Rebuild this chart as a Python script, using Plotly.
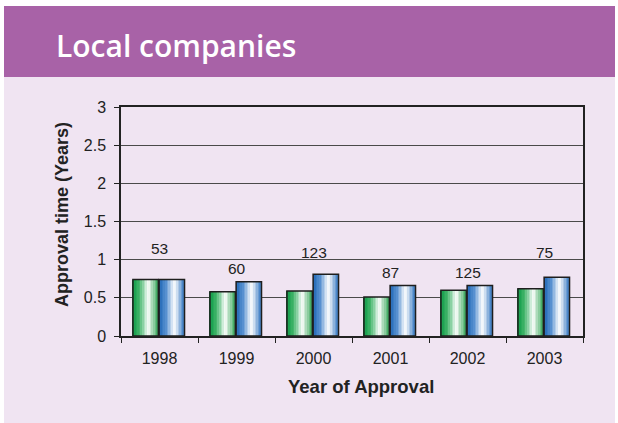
import plotly.graph_objects as go

# ---- data ----
years = ["1998", "1999", "2000", "2001", "2002", "2003"]
series_a = [0.74, 0.58, 0.59, 0.51, 0.60, 0.62]   # green bars
series_b = [0.74, 0.71, 0.81, 0.66, 0.66, 0.77]   # blue bars
count_labels = ["53", "60", "123", "87", "125", "75"]
label_heights = [1.15, 0.88, 1.10, 0.83, 0.83, 1.10]
y_ticks = [0, 0.5, 1, 1.5, 2, 2.5, 3]

# ---- geometry (pixels) ----
W, H = 618, 423
L, R, T, B = 121, 35, 107, 87
PW, PH = W - L - R, H - T - B


def px(x):
    return (x - L) / PW


def py(y):
    return (H - B - y) / PH


def hex2rgb(h):
    h = h.lstrip('#')
    return tuple(int(h[i:i + 2], 16) for i in (0, 2, 4))


def grad(stops, t):
    for (t0, c0), (t1, c1) in zip(stops[:-1], stops[1:]):
        if t0 <= t <= t1:
            f = (t - t0) / (t1 - t0) if t1 > t0 else 0
            a, b = hex2rgb(c0), hex2rgb(c1)
            return 'rgb(%d,%d,%d)' % tuple(round(a[k] + (b[k] - a[k]) * f) for k in range(3))
    return stops[-1][1]


green_stops = [(0, '#0A9A45'), (0.28, '#45B66C'), (0.62, '#FFFFFF'), (1.0, '#38A85B')]
blue_stops = [(0, '#1A62B2'), (0.28, '#5690D0'), (0.62, '#FFFFFF'), (1.0, '#3B7CC4')]

bar_w = 0.33
N = 16
fig = go.Figure()

for vals, stops, off in [(series_a, green_stops, -0.345), (series_b, blue_stops, -0.005)]:
    sw = bar_w / N
    for i in range(N):
        t = (i + 0.5) / N
        fig.add_trace(go.Bar(
            x=years, y=vals, width=sw * 1.02, offset=off + i * sw,
            marker=dict(color=grad(stops, t), line=dict(width=0)),
            hoverinfo='skip', showlegend=False))
    fig.add_trace(go.Bar(
        x=years, y=vals, width=bar_w, offset=off,
        marker=dict(color='rgba(0,0,0,0)', line=dict(color='#1e1e1e', width=1.5)),
        showlegend=False))

annotations = []
for idx, (txt, h) in enumerate(zip(count_labels, label_heights)):
    annotations.append(dict(x=idx, y=h, xref='x', yref='y', text=txt, showarrow=False,
                            xanchor='center', yanchor='middle',
                            font=dict(family='Liberation Sans', size=15.5, color='#222222')))

annotations.append(dict(x=px(54), y=py(46), xref='paper', yref='paper', xanchor='left',
                        yanchor='middle', text='Local companies', showarrow=False,
                        font=dict(family='Open Sans', size=30, color='white', weight=600)))
annotations.append(dict(x=px(62), y=py(215), xref='paper', yref='paper', textangle=-90,
                        xanchor='center', yanchor='middle',
                        text='Approval time (Years)', showarrow=False,
                        font=dict(family='Liberation Sans', size=18, color='#222222', weight='bold')))
annotations.append(dict(x=px(361), y=py(386), xref='paper', yref='paper',
                        xanchor='center', yanchor='middle',
                        text='Year of Approval', showarrow=False,
                        font=dict(family='Liberation Sans', size=18.5, color='#222222', weight='bold')))

shapes = [
    dict(type='rect', xref='paper', yref='paper', x0=px(4), x1=px(615), y0=py(424), y1=py(77),
         fillcolor='#F0E4F2', line=dict(width=0), layer='below'),
    dict(type='rect', xref='paper', yref='paper', x0=px(4), x1=px(615), y0=py(77), y1=py(6),
         fillcolor='#A862A7', line=dict(width=0), layer='below'),
]

fig.update_layout(
    width=W, height=H, margin=dict(l=L, r=R, t=T, b=B),
    paper_bgcolor='white', plot_bgcolor='rgba(0,0,0,0)',
    barmode='overlay', showlegend=False,
    annotations=annotations, shapes=shapes,
    font=dict(family='Liberation Sans', size=16, color='#222222'),
    xaxis=dict(type='category', range=[-0.5, 5.5], showline=True, mirror=True,
               linecolor='#222222', linewidth=1.5, ticks='outside', tickson='boundaries',
               ticklen=5, tickcolor='#222222', tickwidth=1.2, showgrid=False,
               ticklabelstandoff=7,
               tickfont=dict(size=16, color='#222222')),
    yaxis=dict(range=[0, 3], tickvals=y_ticks, showline=True, mirror=True,
               linecolor='#222222', linewidth=1.5, ticks='outside', ticklen=5,
               tickcolor='#222222', tickwidth=1.2, showgrid=True, gridcolor='#4a4a4a',
               gridwidth=1.4, zeroline=False, ticklabelstandoff=5,
               tickfont=dict(size=16, color='#222222')),
)

fig.write_html("out.html", config={'displayModeBar': False},
               post_script="document.body.style.margin='0px';")
